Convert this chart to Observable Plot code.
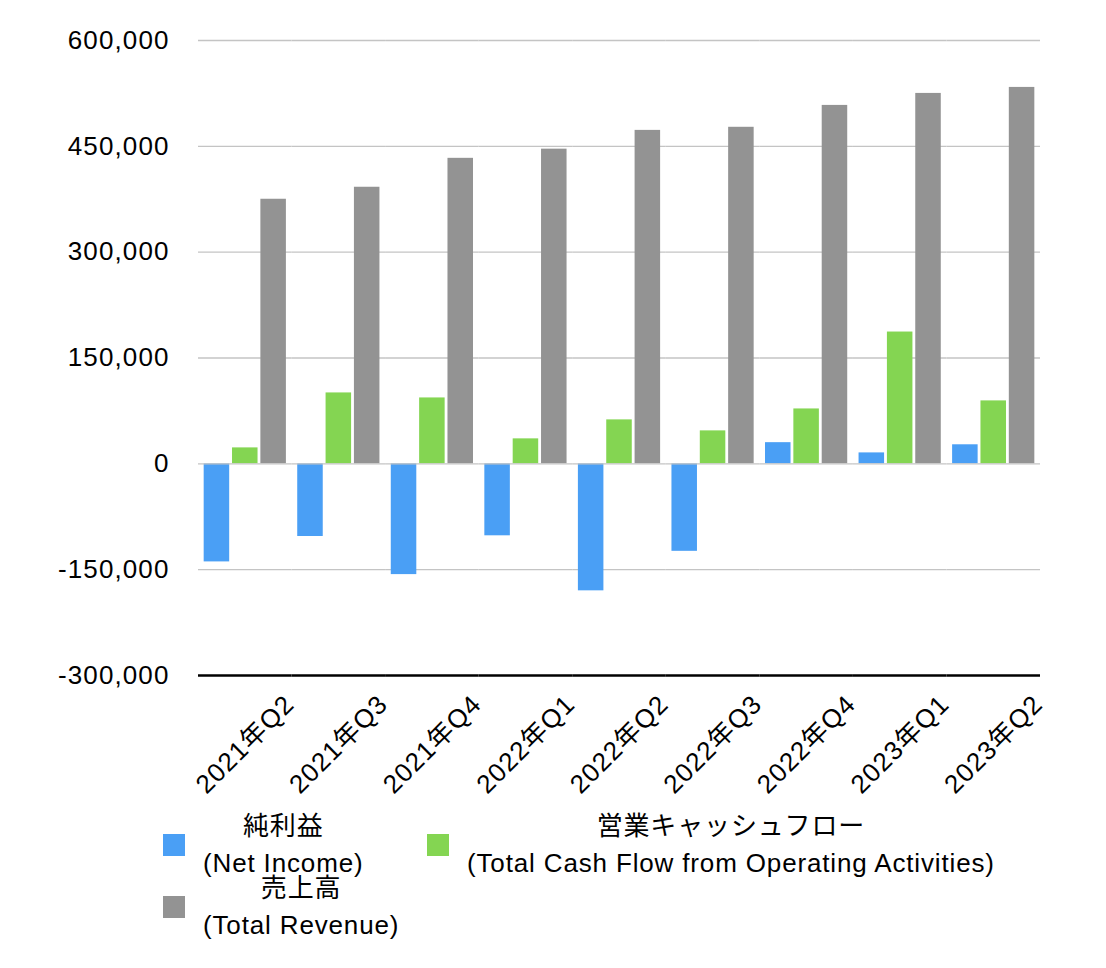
<!DOCTYPE html>
<html><head><meta charset="utf-8">
<script src="https://cdn.jsdelivr.net/npm/d3@7"></script>
<script src="https://cdn.jsdelivr.net/npm/@observablehq/plot@0.6"></script>
<style>
body{margin:0;background:#fff;font-family:"Liberation Sans","Noto Sans CJK JP",sans-serif;}
#wrap{width:1106px;}
#legend{position:relative;width:1106px;height:168px;font-size:26px;letter-spacing:0.85px;color:#000}
.item{position:absolute;display:flex;align-items:center}
.sw{width:22px;height:22px;margin-right:18px;flex:none}
.txt{text-align:center;line-height:37px;white-space:nowrap}
</style></head><body><div id="wrap"></div><div id="legend"></div>
<script>
const quarters = ["2021年Q2","2021年Q3","2021年Q4","2022年Q1","2022年Q2","2022年Q3","2022年Q4","2023年Q1","2023年Q2"];
const seriesKeys = ["純利益","営業キャッシュフロー","売上高"];
const seriesEn = ["(Net Income)","(Total Cash Flow from Operating Activities)","(Total Revenue)"];
const netIncome = [-139000,-103000,-157000,-102000,-180000,-124000,30000,15500,27000];
const operatingCF = [22600,100500,93400,35400,62300,46700,77800,186800,89200];
const revenue = [375000,392000,433000,446000,472600,477000,508000,525000,533500];
const yTicks = [-300000,-150000,0,150000,300000,450000,600000];
const colors = ["#4a9ff5","#84d552","#939393"];

const rows = quarters.flatMap((q,i)=>[netIncome[i],operatingCF[i],revenue[i]].map((v,j)=>({q, s: seriesKeys[j], v})));
const font = '"Liberation Sans","Noto Sans CJK JP",sans-serif';
const fmt = d3.formatLocale({decimal:".", thousands:",", grouping:[3], currency:["",""], minus:"-"}).format(",");

const chart = Plot.plot({
  width:1106, height:800, marginTop:40, marginBottom:125, marginLeft:198, marginRight:66,
  style:{fontFamily:font, fontSize:"26px", color:"#000", background:"#fff", letterSpacing:"1.1px"},
  fx:{domain:quarters, padding:0, axis:null, label:null, round:false},
  x:{domain:seriesKeys, paddingInner:0.1, paddingOuter:0.2, axis:null, round:false},
  y:{domain:[-300000,600000], ticks:yTicks, tickFormat:fmt, tickSize:0, tickPadding:29, label:null},
  color:{domain:seriesKeys, range:colors},
  marks:[
    Plot.ruleY(yTicks.filter(t=>t>-300000 && t!==0), {stroke:"#c4c4c4", strokeWidth:1.3}),
    Plot.barY(rows, {fx:"q", x:"s", y:"v", fill:"s", insetLeft:0, insetRight:0}),
    Plot.ruleY([0], {stroke:"#c4c4c4", strokeWidth:1.3}),
    Plot.ruleY([-300000], {stroke:"#000", strokeWidth:2.5}),
    Plot.text(quarters, {fx:d=>d, text:d=>d, frameAnchor:"bottom", dy:69, rotate:-45, textAnchor:"middle", lineAnchor:"middle", fontSize:26, fill:"#000", style:"letter-spacing:0.6px"})
  ]
});
document.getElementById("wrap").appendChild(chart);

const legend = document.getElementById("legend");
seriesKeys.forEach((k,i)=>{
  const col = i%2, row = Math.floor(i/2);
  const item = document.createElement("div");
  item.className = "item";
  item.style.left = (163 + col*264) + "px";
  item.style.top = (7.5 + row*62.5) + "px";
  const sw = document.createElement("div");
  sw.className = "sw"; sw.style.background = colors[i];
  const txt = document.createElement("div");
  txt.className = "txt";
  txt.innerHTML = "<div>"+k+"</div><div>"+seriesEn[i]+"</div>";
  item.appendChild(sw); item.appendChild(txt);
  legend.appendChild(item);
});
</script></body></html>
